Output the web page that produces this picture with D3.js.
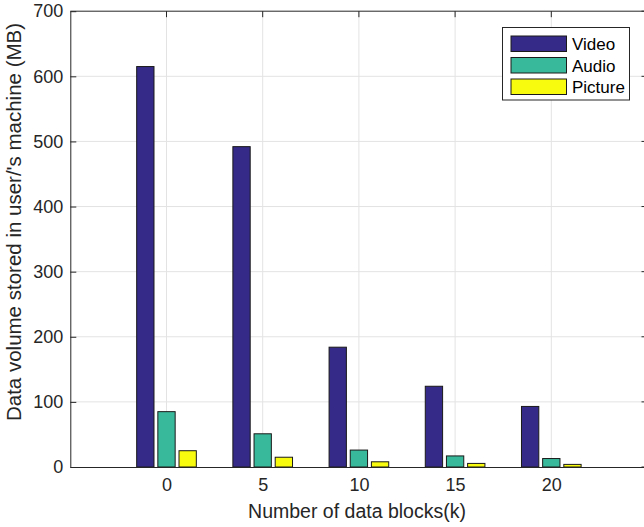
<!DOCTYPE html>
<html><head><meta charset="utf-8">
<script src="https://cdn.jsdelivr.net/npm/d3@7"></script>
<style>body{margin:0;background:#fff}svg{display:block;font-family:"Liberation Sans",Arial,sans-serif}</style>
</head><body>
<svg id="c" width="644" height="527"></svg>
<script>
const categories = [0, 5, 10, 15, 20];
const seriesNames = ["Video", "Audio", "Picture"];
const video = [615, 492, 184, 124, 93];
const audio = [85, 51, 26, 17, 13];
const picture = [25, 15, 8, 5.5, 4];
const yTicks = [0, 100, 200, 300, 400, 500, 600, 700];
const colors = ["#352a87", "#38b99b", "#f9fb0e"];
const series = [video, audio, picture];

const svg = d3.select("#c");
const L = 70.3, R = 647.5, T = 11.2, B = 467;
const x = d3.scaleLinear().domain([-5, 25]).range([L, R]);
const y = d3.scaleLinear().domain([0, 700]).range([B, T]);
const FONT = "Liberation Sans, Arial, sans-serif";

// grid
svg.append("g").selectAll("line").data(yTicks.slice(1, -1)).join("line")
  .attr("x1", L).attr("x2", R).attr("y1", d => y(d)).attr("y2", d => y(d))
  .attr("stroke", "#e3e3e3").attr("stroke-width", 1);
svg.append("g").selectAll("line").data(categories).join("line")
  .attr("y1", T).attr("y2", B).attr("x1", d => x(d)).attr("x2", d => x(d))
  .attr("stroke", "#e3e3e3").attr("stroke-width", 1);

// bars
const offset = 1.1, bw = 0.9;
series.forEach((s, i) => {
  svg.append("g").selectAll("rect").data(s).join("rect")
    .attr("x", (d, j) => x(categories[j] + (i - 1) * offset - bw / 2))
    .attr("width", x(bw) - x(0))
    .attr("y", d => y(d))
    .attr("height", d => y(0) - y(d))
    .attr("fill", colors[i]).attr("stroke", "#1a1a1a").attr("stroke-width", 1);
});

// axes
const ax = svg.append("g").attr("transform", `translate(0,${B})`)
  .call(d3.axisBottom(x).tickValues(categories).tickSize(0).tickPadding(11));
ax.select(".domain").attr("stroke", "#262626");
ax.selectAll("text").attr("font-size", 18).attr("fill", "#262626").attr("font-family", FONT);

const ay = svg.append("g").attr("transform", `translate(${L},0)`)
  .call(d3.axisLeft(y).tickValues(yTicks).tickSizeInner(-6).tickSizeOuter(0).tickPadding(7));
ay.select(".domain").attr("stroke", "#262626");
ay.selectAll(".tick line").attr("stroke", "#262626");
ay.selectAll("text").attr("font-size", 18).attr("fill", "#262626").attr("font-family", FONT);

// right axis ticks and top frame
svg.append("g").selectAll("line").data(yTicks).join("line")
  .attr("x1", R - 6).attr("x2", R).attr("y1", d => y(d)).attr("y2", d => y(d))
  .attr("stroke", "#262626");
svg.append("line").attr("x1", L).attr("x2", R).attr("y1", T).attr("y2", T).attr("stroke", "#262626");
svg.append("g").selectAll("line").data(categories).join("line")
  .attr("x1", d => x(d)).attr("x2", d => x(d)).attr("y1", T).attr("y2", T + 6)
  .attr("stroke", "#262626");

// labels
svg.append("text").attr("x", 357).attr("y", 518).attr("text-anchor", "middle")
  .attr("font-size", 19.5).attr("fill", "#262626").text("Number of data blocks(k)");
svg.append("text").attr("transform", `translate(21,222) rotate(-90)`).attr("text-anchor", "middle")
  .attr("font-size", 20.5).attr("fill", "#262626").text("Data volume stored in user/'s machine (MB)");

// legend
const lg = svg.append("g");
lg.append("rect").attr("x", 502.5).attr("y", 27.5).attr("width", 127).attr("height", 72.5)
  .attr("fill", "#fff").attr("stroke", "#262626").attr("stroke-width", 1);
seriesNames.forEach((n, i) => {
  const yy = 36 + i * 21.5;
  lg.append("rect").attr("x", 511).attr("y", yy).attr("width", 55.5).attr("height", 15.5)
    .attr("fill", colors[i]).attr("stroke", "#1a1a1a");
  lg.append("text").attr("x", 572).attr("y", yy + 14).attr("font-size", 17).attr("fill", "#000").text(n);
});
</script>
</body></html>
